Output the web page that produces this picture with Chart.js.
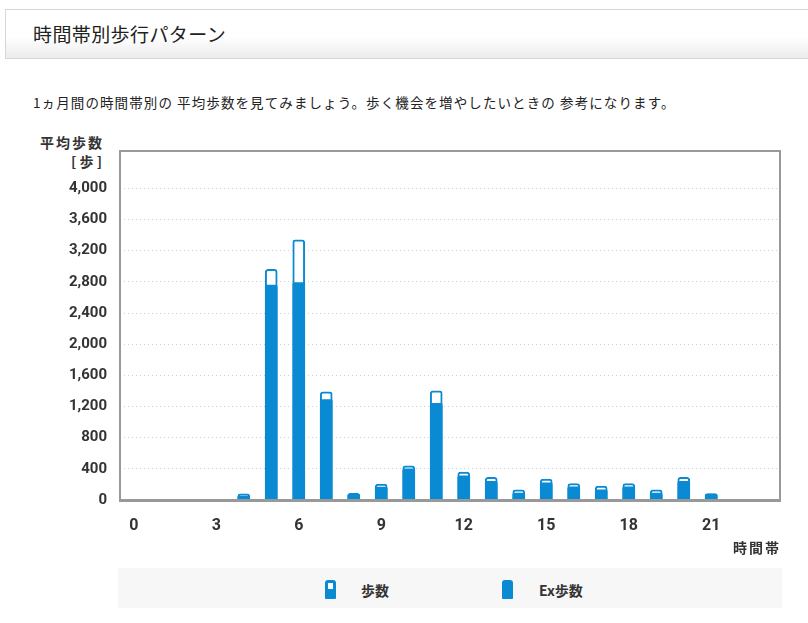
<!DOCTYPE html>
<html>
<head>
<meta charset="utf-8">
<script src="https://cdn.jsdelivr.net/npm/chart.js@4.4.1/dist/chart.umd.min.js"></script>
<style>
  html, body { margin:0; padding:0; background:#fff; width:808px; height:623px; overflow:hidden; }
  body { position:relative; font-family:"Noto Sans CJK JP","Noto Sans",sans-serif; color:#333; }
  #titlebox { position:absolute; left:5px; top:9px; width:810px; height:48px; border:1px solid #d6d6d6;
    background:linear-gradient(#ffffff 0%, #ffffff 55%, #ececec 100%); }
  #titlebox span { position:absolute; left:27px; top:10px; font-size:19px; color:#222; letter-spacing:0.4px; }
  #desc { position:absolute; left:33px; top:92px; font-size:13.5px; color:#222; letter-spacing:1.1px; white-space:nowrap; }
  #ylab1 { position:absolute; left:40px; top:132px; font-size:14px; font-weight:bold; color:#333; letter-spacing:2px; }
  #ylab2 { position:absolute; left:71px; top:151px; font-size:14px; font-weight:bold; color:#333; white-space:pre; }
  #xlab { position:absolute; left:733px; top:537px; font-size:14px; font-weight:bold; color:#333; letter-spacing:2px; }
  #wrap { position:absolute; left:0; top:129px; width:800px; height:411px; }
  #legend { position:absolute; left:118px; top:568px; width:664px; height:40px; background:#f7f7f7; }
  .icon { position:absolute; top:12px; width:11px; height:19px; background:#0a8ad2; border-radius:3px 3px 1px 1px; }
  .icon i { position:absolute; left:3px; top:3px; width:5px; height:6px; background:#fff; }
  .ltxt { position:absolute; top:12px; font-size:14px; font-weight:bold; color:#333; }
</style>
</head>
<body>
<div id="titlebox"><span>時間帯別歩行パターン</span></div>
<div id="desc">1ヵ月間の時間帯別の 平均歩数を見てみましょう。歩く機会を増やしたいときの 参考になります。</div>
<div id="ylab1">平均歩数</div>
<div id="ylab2">[ 歩 ]</div>
<div id="wrap"><canvas id="c" width="800" height="411"></canvas></div>
<div id="xlab">時間帯</div>
<div id="legend">
  <div class="icon" style="left:207px"><i></i></div><div class="ltxt" style="left:243px">歩数</div>
  <div class="icon" style="left:384px"></div><div class="ltxt" style="left:421px">Ex歩数</div>
</div>
<script>
const hours = ["0","1","2","3","4","5","6","7","8","9","10","11","12","13","14","15","16","17","18","19","20","21","22","23"];
const steps   = [0,0,0,0,80,2960,3340,1390,85,205,440,1400,360,290,130,270,210,180,210,130,290,80,0,0];
const exSteps = [0,0,0,0,50,2760,2790,1290,80,165,400,1240,310,240,90,220,170,130,170,90,240,80,0,0];
const yTicks  = [0,400,800,1200,1600,2000,2400,2800,3200,3600,4000];
const yMax = 4480;
const BLUE = '#0a8ad2';

const framePlugin = {
  id:'frame',
  afterDatasetsDraw(chart){
    const {ctx, chartArea:a} = chart;
    ctx.save();
    ctx.strokeStyle = '#999';
    ctx.lineWidth = 2;
    ctx.beginPath();
    ctx.moveTo(a.left, a.bottom); ctx.lineTo(a.left, a.top); ctx.lineTo(a.right, a.top); ctx.lineTo(a.right, a.bottom);
    ctx.stroke();
    ctx.lineWidth = 3;
    ctx.beginPath(); ctx.moveTo(a.left-1, a.bottom+0.5); ctx.lineTo(a.right+1, a.bottom+0.5); ctx.stroke();
    ctx.restore();
  }
};

new Chart(document.getElementById('c'), {
  type:'bar',
  data:{
    labels: hours,
    datasets:[
      { label:'Ex歩数', data: exSteps, backgroundColor: BLUE, borderWidth:0,
        borderRadius:{topLeft:2, topRight:2}, borderSkipped:'bottom',
        barThickness:12, order:1 },
      { label:'歩数', data: steps, backgroundColor:'#fff', borderColor: BLUE, borderWidth:2,
        borderRadius:{topLeft:3, topRight:3}, borderSkipped:'bottom',
        barThickness:12, order:2 }
    ]
  },
  options:{
    responsive:false, animation:false,
    layout:{ padding:{ top:0, right:20, left:0, bottom:0 } },
    plugins:{ legend:{display:false}, tooltip:{enabled:false} },
    datasets:{ bar:{ grouped:false } },
    scales:{
      x:{
        grid:{ display:false },
        border:{ display:false },
        ticks:{
          autoSkip:false, maxRotation:0, padding:8,
          color:'#333', font:{ family:'Roboto', size:16, weight:'bold' },
          callback:function(v,i){ return i % 3 === 0 ? hours[i] : ''; }
        },
        afterFit(s){ s.height = 40; }
      },
      y:{
        min:0, max:yMax,
        afterBuildTicks(s){ s.ticks = yTicks.map(v=>({value:v})); },
        grid:{ color:'#cfcfcf', drawTicks:false, lineWidth:1 },
        border:{ display:false, dash:[1,3] },
        ticks:{ padding:13, color:'#333', font:{ family:'Roboto', size:15, weight:'bold' },
          callback:v => v.toLocaleString('en-US') },
        afterFit(s){ s.width = 120; }
      }
    }
  },
  plugins:[framePlugin]
});
</script>
</body>
</html>
